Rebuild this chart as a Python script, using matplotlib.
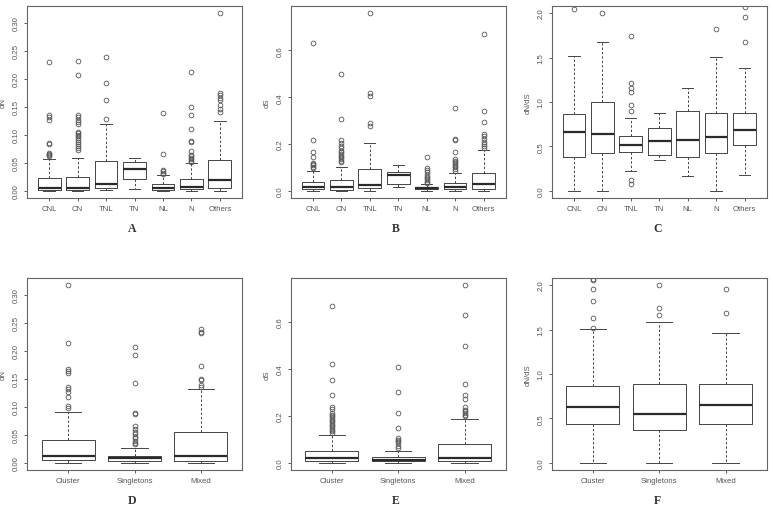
import matplotlib
matplotlib.use("Agg")
import matplotlib.pyplot as plt

# group names
family_groups = ["CNL", "CN", "TNL", "TN", "NL", "N", "Others"]
cluster_groups = ["Cluster", "Singletons", "Mixed"]

# five-number summaries per group: whisker low, q1, median, q3, whisker high
dn_family = [
    [0.0, 0.001, 0.005, 0.023, 0.056],
    [0.0, 0.001, 0.006, 0.025, 0.059],
    [0.001, 0.005, 0.012, 0.053, 0.119],
    [0.004, 0.022, 0.039, 0.051, 0.059],
    [0.0, 0.002, 0.005, 0.012, 0.028],
    [0.0, 0.003, 0.007, 0.022, 0.050],
    [0.0, 0.005, 0.019, 0.055, 0.125],
]
dn_family_out = [
    [0.230, 0.135, 0.131, 0.126, 0.086, 0.084, 0.068, 0.066, 0.064, 0.062],
    [0.232, 0.206, 0.136, 0.131, 0.127, 0.122, 0.119, 0.105, 0.103, 0.100,
     0.097, 0.094, 0.091, 0.087, 0.084, 0.080, 0.076, 0.073],
    [0.238, 0.192, 0.162, 0.129],
    [],
    [0.139, 0.066, 0.037, 0.035, 0.032, 0.031],
    [0.212, 0.150, 0.135, 0.110, 0.089, 0.087, 0.071, 0.064, 0.062, 0.059,
     0.056, 0.054, 0.052],
    [0.317, 0.175, 0.171, 0.166, 0.162, 0.153, 0.146, 0.140],
]

ds_family = [
    [0.0, 0.006, 0.016, 0.037, 0.086],
    [0.0, 0.004, 0.017, 0.048, 0.102],
    [0.0, 0.014, 0.026, 0.095, 0.203],
    [0.016, 0.028, 0.069, 0.082, 0.109],
    [0.0, 0.007, 0.011, 0.017, 0.028],
    [0.0, 0.007, 0.017, 0.034, 0.077],
    [0.0, 0.009, 0.031, 0.078, 0.176],
]
ds_family_out = [
    [0.632, 0.217, 0.166, 0.146, 0.121, 0.116, 0.111, 0.104, 0.098],
    [0.498, 0.305, 0.218, 0.204, 0.193, 0.181, 0.172, 0.164, 0.157, 0.150,
     0.143, 0.136, 0.129, 0.122],
    [0.759, 0.420, 0.407, 0.289, 0.278],
    [],
    [0.145, 0.096, 0.089, 0.079, 0.069, 0.061, 0.054, 0.047, 0.040, 0.033],
    [0.355, 0.221, 0.217, 0.164, 0.136, 0.129, 0.122, 0.115, 0.108, 0.101,
     0.094, 0.086],
    [0.669, 0.339, 0.292, 0.241, 0.235, 0.221, 0.210, 0.200, 0.190, 0.182],
]

dnds_family = [
    [0.0, 0.378, 0.666, 0.860, 1.518],
    [0.0, 0.426, 0.643, 0.995, 1.679],
    [0.228, 0.434, 0.512, 0.621, 0.819],
    [0.344, 0.400, 0.561, 0.703, 0.875],
    [0.172, 0.378, 0.568, 0.898, 1.163],
    [0.0, 0.426, 0.602, 0.871, 1.511],
    [0.180, 0.520, 0.688, 0.875, 1.380],
]
dnds_family_out = [
    [2.05],
    [2.00],
    [0.12, 0.075, 0.898, 0.969, 1.111, 1.159, 1.212, 1.747],
    [],
    [],
    [1.821],
    [1.67, 1.956, 2.072, 2.12],
]

dn_cluster = [
    [0.0, 0.005, 0.013, 0.041, 0.091],
    [0.0, 0.004, 0.008, 0.013, 0.027],
    [0.0, 0.004, 0.013, 0.055, 0.131],
]
dn_cluster_out = [
    [0.317, 0.213, 0.167, 0.164, 0.161, 0.135, 0.131, 0.126, 0.117, 0.101, 0.098],
    [0.206, 0.192, 0.142, 0.089, 0.088, 0.065, 0.060, 0.055, 0.051, 0.047,
     0.044, 0.039, 0.036, 0.034],
    [0.238, 0.234, 0.231, 0.173, 0.150, 0.148, 0.138, 0.135],
]

ds_cluster = [
    [0.0, 0.009, 0.021, 0.052, 0.118],
    [0.0, 0.007, 0.014, 0.027, 0.051],
    [0.0, 0.009, 0.021, 0.081, 0.187],
]
ds_cluster_out = [
    [0.668, 0.420, 0.353, 0.288, 0.237, 0.230, 0.213, 0.206, 0.199, 0.192,
     0.184, 0.177, 0.170, 0.163, 0.156, 0.149, 0.142, 0.135, 0.128],
    [0.408, 0.302, 0.213, 0.149, 0.106, 0.099, 0.092, 0.085, 0.074, 0.064],
    [0.757, 0.630, 0.496, 0.337, 0.291, 0.272, 0.237, 0.227, 0.220, 0.213,
     0.206, 0.199],
]

dnds_cluster = [
    [0.0, 0.442, 0.633, 0.865, 1.502],
    [0.0, 0.375, 0.554, 0.888, 1.580],
    [0.0, 0.442, 0.648, 0.884, 1.457],
]
dnds_cluster_out = [
    [2.07, 2.056, 1.959, 1.820, 1.633, 1.513],
    [2.004, 1.745, 1.667],
    [1.959, 1.681],
]

LINE = "#444444"
TEXT = "#555555"


def make_stats(summary, outliers, names):
    stats = []
    for s, o, n in zip(summary, outliers, names):
        stats.append(dict(whislo=s[0], q1=s[1], med=s[2], q3=s[3], whishi=s[4],
                          fliers=o, label=n))
    return stats


def r_boxplot(ax, summary, outliers, names, ylabel, yticks, fmt, ylim=None):
    ax.bxp(make_stats(summary, outliers, names), widths=0.8,
           boxprops=dict(color=LINE, linewidth=0.7),
           medianprops=dict(color="#2a2a2a", linewidth=1.6),
           whiskerprops=dict(color=LINE, linewidth=0.7, linestyle=(0, (2.5, 2))),
           capprops=dict(color=LINE, linewidth=0.7),
           flierprops=dict(marker="o", markersize=3.4, markerfacecolor="none",
                           markeredgecolor="#555555", markeredgewidth=0.6),
           capwidths=0.4)
    if ylim is None:
        lo = min(min(s) for s in summary)
        hi = max([max(s) for s in summary] + [max(o) for o in outliers if o])
    else:
        lo, hi = ylim
    pad = 0.04 * (hi - lo)
    ax.set_ylim(lo - pad, hi + pad)
    n = len(names)
    xpad = 0.04 * n
    ax.set_xlim(0.5 - xpad, n + 0.5 + xpad)
    ax.set_yticks(yticks)
    ax.set_yticklabels([fmt.format(t) for t in yticks], rotation=90, va="center")
    ax.tick_params(direction="out", length=2.2, width=0.6, color=LINE,
                   labelsize=5.6, labelcolor=TEXT, pad=3.0)
    for sp in ax.spines.values():
        sp.set_color("#666666")
        sp.set_linewidth(0.8)
    ax.set_ylabel(ylabel, fontsize=5.6, color=TEXT)


plt.rcParams["font.family"] = ["Liberation Sans", "DejaVu Sans"]
fig = plt.figure(figsize=(7.74, 5.10), dpi=100)

W, H = 774, 510
lefts = [27, 290.7, 551.7]
tops = [7, 279]
aw, ah = 215, 192

panels = [
    (dn_family, dn_family_out, family_groups, "dN", [0, 0.05, 0.10, 0.15, 0.20, 0.25, 0.30], "{:.2f}", None, "A"),
    (ds_family, ds_family_out, family_groups, "dS", [0, 0.2, 0.4, 0.6], "{:.1f}", None, "B"),
    (dnds_family, dnds_family_out, family_groups, "dN/dS", [0, 0.5, 1.0, 1.5, 2.0], "{:.1f}", (0, 2), "C"),
    (dn_cluster, dn_cluster_out, cluster_groups, "dN", [0, 0.05, 0.10, 0.15, 0.20, 0.25, 0.30], "{:.2f}", None, "D"),
    (ds_cluster, ds_cluster_out, cluster_groups, "dS", [0, 0.2, 0.4, 0.6], "{:.1f}", None, "E"),
    (dnds_cluster, dnds_cluster_out, cluster_groups, "dN/dS", [0, 0.5, 1.0, 1.5, 2.0], "{:.1f}", (0, 2), "F"),
]

for i, (summ, outs, names, ylab, yt, fmt, ylim, letter) in enumerate(panels):
    row, col = divmod(i, 3)
    left, top = lefts[col], tops[row]
    ax = fig.add_axes([left / W, 1 - (top + ah) / H, aw / W, ah / H])
    r_boxplot(ax, summ, outs, names, ylab, yt, fmt, ylim)
    ax.yaxis.set_label_coords(-20 / aw, 0.5)
    fig.text((left + aw / 2 - 2) / W, 1 - (top + ah + 30) / H, letter,
             ha="center", va="center", fontsize=8.5, fontweight="bold",
             family="Liberation Serif", color="#333333")

fig.savefig("out.png", dpi=100)
